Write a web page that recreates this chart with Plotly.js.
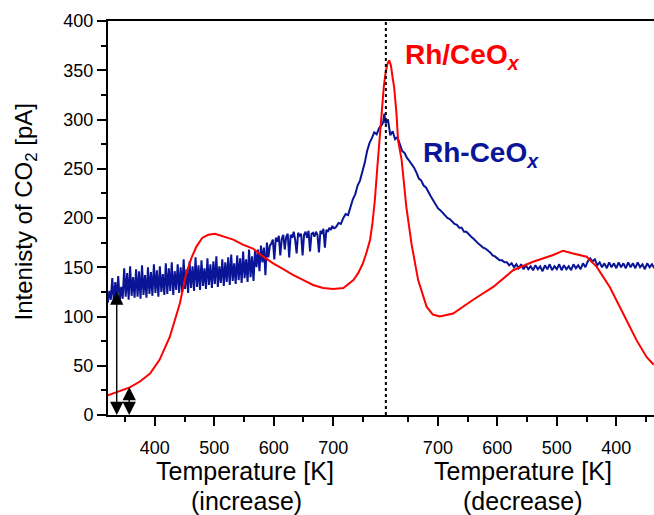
<!DOCTYPE html>
<html>
<head>
<meta charset="utf-8">
<script src="https://cdn.plot.ly/plotly-3.0.1.min.js"></script>
<style>html,body{margin:0;padding:0;background:#fff;}#chart{width:654px;height:515px;}</style>
</head>
<body>
<div id="chart"></div>
<script>
// Peak temperature where the ramp turns from increase to decrease
const tMax = 788;
const dashT = 788.5;

// Tick labels
const xTickTemps = [400, 500, 600, 700];
const xTickText = ['400', '500', '600', '700', '700', '600', '500', '400'];
const xMinorTemps = [350, 450, 550, 650, 750];

// Rh-CeOx (blue), heating part, noisy: starts at 321 K, sampled every 2.5 K
const blueHeatStartT = 321;
const blueHeatStepT = 2.5;
const blueHeatNoisy = [
  114,126,117,139,115,135,119,141,116,130,
  118,149,120,144,117,151,121,140,119,148,
  120,146,118,152,122,142,119,150,123,145,
  121,153,124,147,120,151,125,143,122,154,
  123,149,126,155,122,146,127,153,124,150,
  125,158,128,148,124,156,129,151,126,160,
  130,152,127,157,131,149,128,159,132,153,
  129,156,133,161,130,151,134,158,131,155,
  135,160,132,163,136,154,133,162,137,159,
  134,166,139,158,135,168,140,161,136,167,
  150,168,146,172,155,170,142,175,160,172,
  174,178,158,180,176,182,162,179,183,168,
  181,184,160,183,180,186,178,164,185,182,
  184,162,183,186,180,187,166,184,185,181,
  186,183,165,187,184,189,170,188,186,190,
  188,192,189
];

// Rh-CeOx (blue), heating part near the peak
const blueRiseT = [701,705,709,713,717,721,725,729,733,737,741,745,749,753,757,761,765,769,773,777,781,784,786,788];
const blueRiseV = [189,191,195,194,200,204,203,211,219,224,233,238,247,256,268,276,281,287,285,291,294,297,306,296];

// Rh-CeOx (blue), cooling part: starts at 788 K, every 4 K downwards
const blueCoolStartT = 788;
const blueCoolStepT = 4;
const blueCoolNoisy = [
  296,300,284,288,280,282,275,268,266,261,
  258,255,251,246,240,238,233,231,226,222,
  218,214,210,208,205,203,200,199,196,194,
  193,190,190,186,186,183,181,179,176,174,
  172,170,169,167,165,162,161,159,157,157,
  155,155,152,154,150,153,149,153,148,152,
  148,151,147,152,148,151,146,152,148,153,
  147,151,148,153,147,152,148,151,147,153,
  149,152,148,154,150,156,159,156,158,152,
  155,150,154,149,155,150,154,149,155,150,
  154,149,155,150,154,149,155,150,153,148,
  154,150,153,149
];

// Rh/CeOx (red), heating
const redHeatT = [321,340,358,375,392,408,425,442,453,462,470,480,490,501,515,532,548,565,582,599,616,633,650,666,683,700,717,734,742,750,756,762,766,770,774,778,782,785,788];
const redHeatV = [20,24,28,34,42,56,79,113,144,160,171,180,183,184,181,178,173,169,161,154,148,142,137,132,129,128,129,137,144,154,165,178,195,218,250,284,318,333,347];

// Rh/CeOx (red), cooling
const redCoolT = [788,785,782,779,776,773.6,769.6,767,761,753,744.4,733.2,719,708.5,696.7,674.4,640.7,607,573.5,540,506.2,489.4,472.6,450,433.2,411,388.5,366,349.2,337];
const redCoolV = [347,356,360,355,342,333,306,279,259,211,174,137,110,102,100,103,117,130,147,155.6,162.4,166.8,164,160.7,150.6,130,103,76,59,51];

// Double-headed arrows (temperature, top value)
const arrowT = [336, 357];
const arrowTop = [127, 30];

// ---- build ----
const coolU = T => 2 * tMax - T;
const xTickU = xTickTemps.concat(xTickTemps.slice().reverse().map(coolU));
const xMinorU = xMinorTemps.concat(xMinorTemps.slice().reverse().map(coolU));

const BLUE = '#0a1496';
const RED = '#ff0000';
const FONT = 'Liberation Sans, Arial, Helvetica, sans-serif';

const traces = [
  {type:'scatter', mode:'lines', x0: blueHeatStartT, dx: blueHeatStepT, y: blueHeatNoisy,
   line:{color:BLUE, width:2}, hoverinfo:'skip'},
  {type:'scatter', mode:'lines', x: blueRiseT, y: blueRiseV,
   line:{color:BLUE, width:2}, hoverinfo:'skip'},
  {type:'scatter', mode:'lines', x0: coolU(blueCoolStartT), dx: blueCoolStepT, y: blueCoolNoisy,
   line:{color:BLUE, width:2}, hoverinfo:'skip'},
  {type:'scatter', mode:'lines', x: redHeatT, y: redHeatV,
   line:{color:RED, width:2}, hoverinfo:'skip'},
  {type:'scatter', mode:'lines', x: redCoolT.map(coolU), y: redCoolV,
   line:{color:RED, width:2}, hoverinfo:'skip'}
];

const annotations = [];
arrowT.forEach((t, i) => {
  annotations.push({
    x: t, y: 0, ax: t, ay: arrowTop[i], xref:'x', yref:'y', axref:'x', ayref:'y',
    text:'', showarrow:true, arrowhead:2, startarrowhead:2, arrowside:'end+start',
    arrowsize:1.9, startarrowsize:1.9, arrowwidth:1.4, arrowcolor:'#000',
    standoff:0, startstandoff:0, font:{size:1}
  });
});
annotations.push(
  {text:'<b>Rh/CeO<sub><i>x</i></sub></b>', xref:'paper', yref:'paper', x:0.540, y:0.911,
   xanchor:'left', yanchor:'middle', showarrow:false, font:{family:FONT, size:28, color:RED}},
  {text:'<b>Rh-CeO<sub><i>x</i></sub></b>', xref:'paper', yref:'paper', x:0.574, y:0.66,
   xanchor:'left', yanchor:'middle', showarrow:false, font:{family:FONT, size:28, color:BLUE}},
  {text:'Temperature [K]', xref:'paper', yref:'paper', x:0.251, y:-0.142,
   xanchor:'center', yanchor:'middle', showarrow:false, font:{family:FONT, size:25, color:'#000'}},
  {text:'(increase)', xref:'paper', yref:'paper', x:0.254, y:-0.218,
   xanchor:'center', yanchor:'middle', showarrow:false, font:{family:FONT, size:25, color:'#000'}},
  {text:'Temperature [K]', xref:'paper', yref:'paper', x:0.760, y:-0.142,
   xanchor:'center', yanchor:'middle', showarrow:false, font:{family:FONT, size:25, color:'#000'}},
  {text:'(decrease)', xref:'paper', yref:'paper', x:0.760, y:-0.218,
   xanchor:'center', yanchor:'middle', showarrow:false, font:{family:FONT, size:25, color:'#000'}},
  {text:'Intenisty of CO<sub>2</sub> [pA]', xref:'paper', yref:'paper', x:-0.152, y:0.514,
   xanchor:'center', yanchor:'middle', textangle:-90, showarrow:false,
   font:{family:FONT, size:24, color:'#000'}}
);

const layout = {
  width:654, height:515,
  margin:{l:108, r:0, t:21, b:100, pad:0},
  paper_bgcolor:'#fff', plot_bgcolor:'#fff',
  showlegend:false,
  font:{family:FONT, color:'#000'},
  xaxis:{
    range:[321.3, 1239.4], tickmode:'array', tickvals:xTickU, ticktext:xTickText,
    ticks:'outside', ticklen:9, tickwidth:2, tickcolor:'#000',
    showline:true, linewidth:2, linecolor:'#000', mirror:true,
    showgrid:false, zeroline:false, tickfont:{family:FONT, size:18, color:'#000'},
    ticklabelstandoff:6,
    minor:{tickmode:'array', tickvals:xMinorU, ticks:'outside', ticklen:5, tickwidth:2, tickcolor:'#000', showgrid:false}
  },
  yaxis:{
    range:[0, 400], tickmode:'linear', tick0:0, dtick:50,
    ticks:'outside', ticklen:9, tickwidth:2, tickcolor:'#000',
    showline:true, linewidth:2, linecolor:'#000',
    showgrid:false, zeroline:false, tickfont:{family:FONT, size:18, color:'#000'},
    minor:{tick0:0, dtick:25, ticks:'outside', ticklen:5, tickwidth:2, tickcolor:'#000', showgrid:false}
  },
  shapes:[
    {type:'line', xref:'x', yref:'y', x0:dashT, x1:dashT, y0:0, y1:400,
     line:{color:'#000', width:2, dash:'dot'}}
  ],
  annotations: annotations
};

Plotly.newPlot('chart', traces, layout, {staticPlot:true, displayModeBar:false});
</script>
</body>
</html>
